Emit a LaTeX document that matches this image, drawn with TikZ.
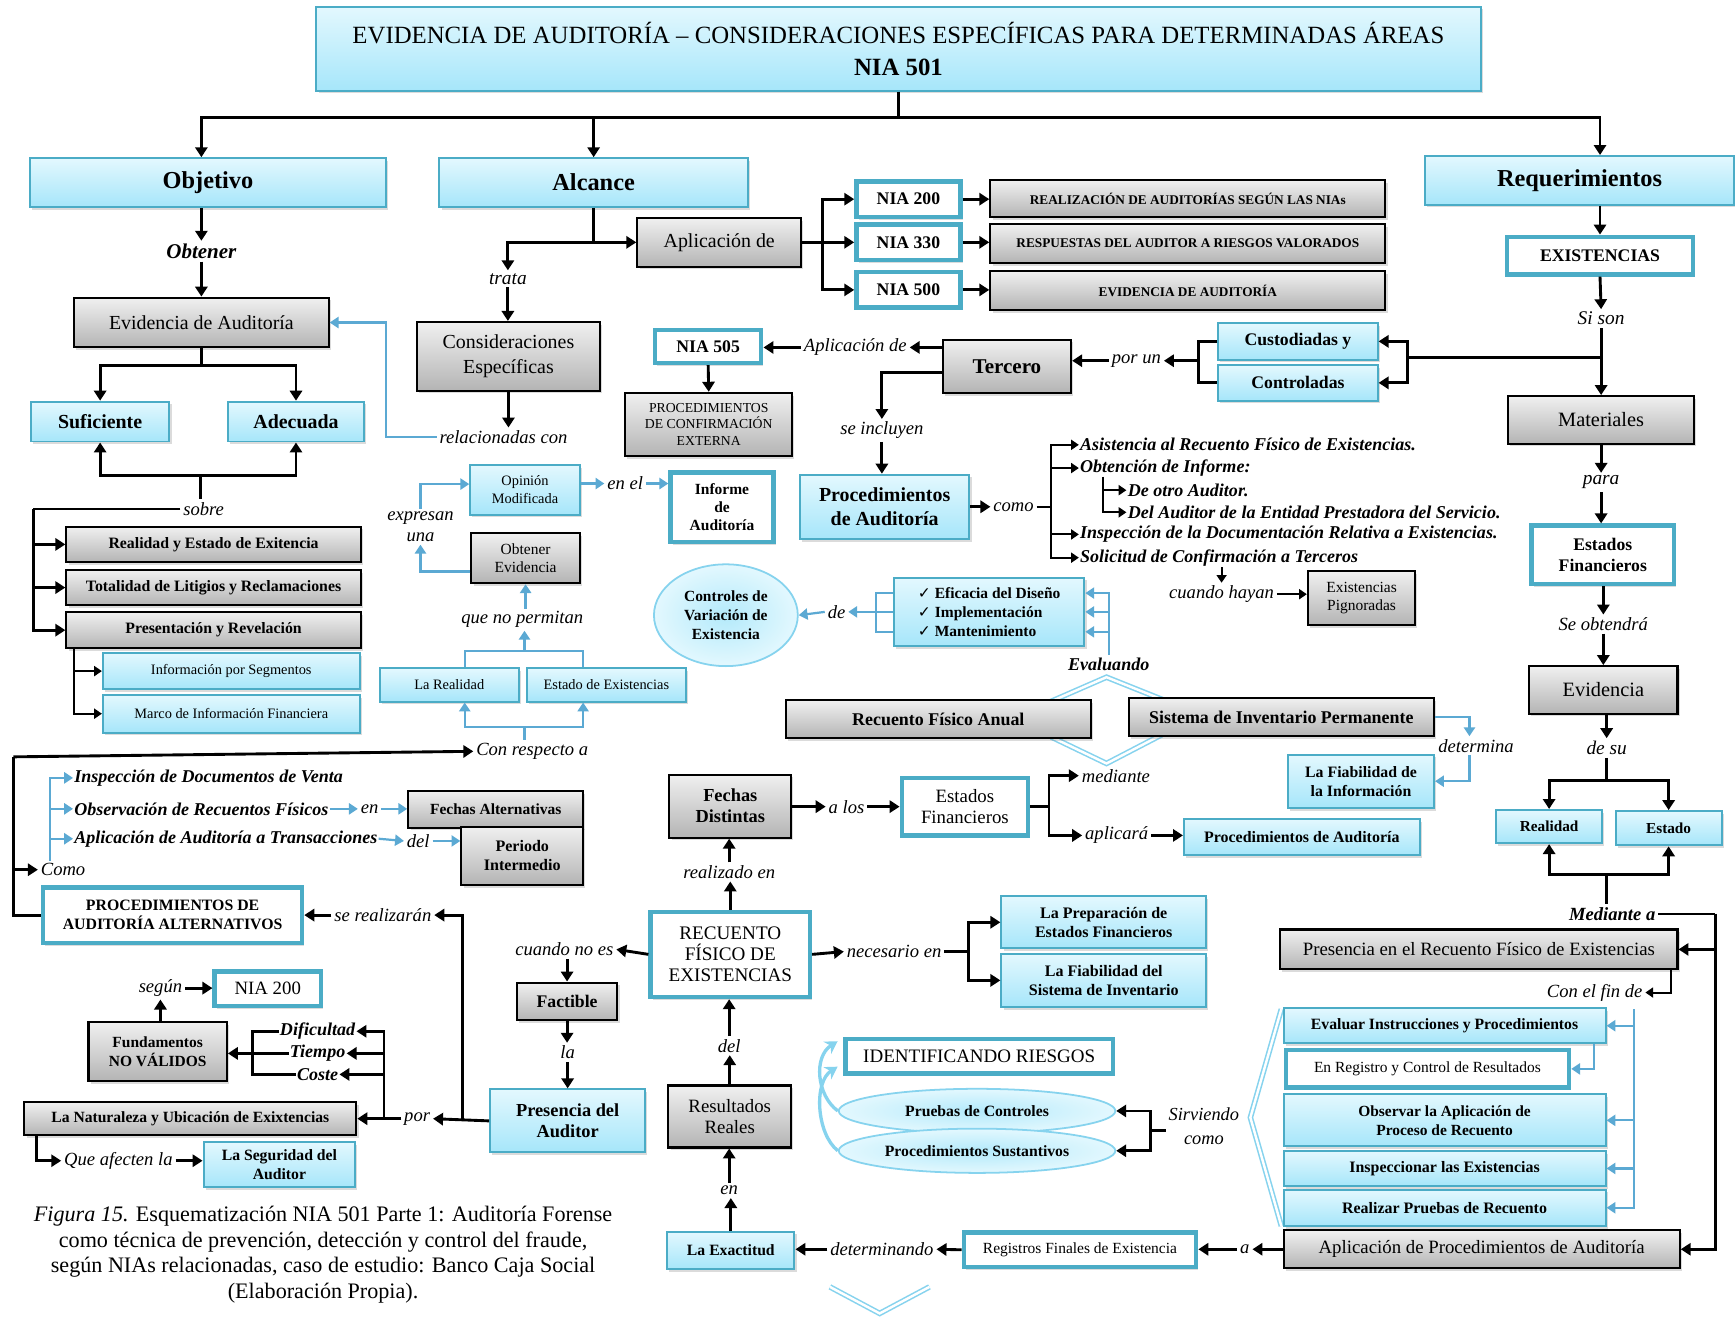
\documentclass[tikz,border=0pt]{standalone}
\usepackage{fontspec}
\setmainfont{Liberation Serif}
\newfontfamily\symfont{DejaVu Sans}
\usetikzlibrary{arrows.meta,shapes.geometric,shadows,calc}
\newcommand\fz[2]{\fontsize{#1}{#2}\selectfont}
\definecolor{cyt}{HTML}{E3F8FE}
\definecolor{cyb}{HTML}{A6E6FA}
\definecolor{bd}{HTML}{4BACC6}
\definecolor{bl}{HTML}{5BA9D3}
\definecolor{gyt}{HTML}{F0F0F0}
\definecolor{gyb}{HTML}{B4B4B4}
\definecolor{lc}{HTML}{86D3EE}
\tikzset{
  shd/.style={drop shadow={shadow xshift=2pt, shadow yshift=-2.5pt, opacity=0.28}},
  cbox/.style={draw=bd, line width=1.8pt, top color=cyt, bottom color=cyb, align=center, inner sep=1pt, shd},
  gbox/.style={draw=black, line width=1.9pt, top color=gyt, bottom color=gyb, align=center, inner sep=1pt, shd},
  wbox/.style={draw=bd, line width=4pt, fill=white, align=center, inner sep=1pt, shd},
  ell/.style={ellipse, draw=lc, line width=1.6pt, inner color=cyb!85, outer color=cyt, align=center, inner sep=0pt},
  sz/.style 2 args={minimum width=#1pt, minimum height=#2pt},
  lab/.style={font=\fz{16.8}{19}\itshape, inner sep=2.5pt},
  blab/.style={font=\fz{16.3}{19}\bfseries\itshape, inner sep=2.5pt},
  arr/.style={draw=black, line width=2.6pt, -{Triangle[length=9pt,width=11pt]}},
  sarr/.style={draw=black, line width=1.8pt, -{Triangle[length=7pt,width=9pt]}},
  lw/.style={draw=black, line width=2.6pt},
  slw/.style={draw=black, line width=1.8pt},
  barr/.style={draw=bl, line width=2pt, -{Triangle[length=8pt,width=10pt]}},
  bln/.style={draw=bl, line width=2pt},
  chev/.style={draw=lc, line width=1.4pt, double=white, double distance=2.2pt},
  curv/.style={draw=lc, line width=3pt, -{Stealth[length=11pt,width=13pt]}},
}
\begin{document}
\begin{tikzpicture}[x=1pt,y=-1pt]
\useasboundingbox[fill=white] (0,0) rectangle (1568,1190);

% decorative double-line chevrons
\draw[chev] (945,636) -- (1000,612) -- (1055,634);
\draw[chev] (950,666) -- (1000,690) -- (1050,664);
\draw[chev] (750,1163) -- (795,1187) -- (840,1163);
\draw[chev] (1158,912) -- (1130,1010) -- (1158,1108);

% ---------- title and main branches ----------
\node[cbox, sz={1052}{76}, font=\fz{22.4}{29}] (title) at (812,44)
  {EVIDENCIA DE AUDITORÍA – CONSIDERACIONES ESPECÍFICAS PARA DETERMINADAS ÁREAS\\\textbf{NIA 501}};
\node[cbox, sz={322}{44}, font=\fz{22}{24}\bfseries] (objetivo) at (188,165) {Objetivo};
\node[cbox, sz={279}{44}, font=\fz{22}{24}\bfseries] (alcance) at (536.5,165) {Alcance};
\node[cbox, sz={279}{44}, font=\fz{22}{24}\bfseries] (requer) at (1427.5,163) {Requerimientos};

% ---------- Objetivo column ----------
\node[blab, font=\fz{19}{21}\bfseries\itshape] (obtener) at (182,227) {Obtener};
\node[gbox, sz={230}{45}, font=\fz{18}{20}] (evid) at (182,291.5) {Evidencia de Auditoría};
\node[cbox, sz={125}{36}, font=\fz{18}{20}\bfseries] (sufic) at (90.5,381) {Suficiente};
\node[cbox, sz={123}{36}, font=\fz{18}{20}\bfseries] (adec) at (267.5,381) {Adecuada};
\node[lab] (sobre) at (184,460) {sobre};
\node[gbox, sz={266}{32}, font=\fz{14.3}{16}\bfseries] (realE) at (193,492) {Realidad y Estado de Exitencia};
\node[gbox, sz={266}{32}, font=\fz{14.3}{16}\bfseries] (totl) at (193,531) {Totalidad de Litigios y Reclamaciones};
\node[gbox, sz={266}{33}, font=\fz{14.3}{16}\bfseries] (pres) at (193,569.5) {Presentación y Revelación};
\node[cbox, sz={232}{33}, font=\fz{13}{15}] (iseg) at (209,606.5) {Información por Segmentos};
\node[cbox, sz={232}{34}, font=\fz{13}{15}] (marco) at (209,645) {Marco de Información Financiera};

% ---------- Alcance column ----------
\node[gbox, sz={148}{44}, font=\fz{18}{21}] (aplic) at (650,219) {Aplicación de};
\node[wbox, sz={94}{32}, font=\fz{16}{19}\bfseries] (n200) at (821,180) {NIA 200};
\node[wbox, sz={94}{32}, font=\fz{16}{19}\bfseries] (n330) at (821,219) {NIA 330};
\node[wbox, sz={94}{32}, font=\fz{16}{19}\bfseries] (n500) at (821,262) {NIA 500};
\node[gbox, sz={357}{33}, font=\fz{12}{13}\bfseries] (realiz) at (1073.5,179.5) {REALIZACIÓN DE AUDITORÍAS SEGÚN LAS NIAs};
\node[gbox, sz={357}{35}, font=\fz{12}{13}\bfseries] (respu) at (1073.5,220) {RESPUESTAS DEL AUDITOR A RIESGOS VALORADOS};
\node[gbox, sz={357}{35}, font=\fz{12}{13}\bfseries] (evaud) at (1073.5,262.5) {EVIDENCIA DE AUDITORÍA};
\node[lab, font=\fz{17.5}{19}\itshape] (trata) at (459,252) {trata};
\node[gbox, sz={165}{62}, font=\fz{18}{22}] (consid) at (459.5,322) {Consideraciones\\Específicas};
\node[lab] (relac) at (455,395) {relacionadas con};

\node[cbox, sz={99}{45}, font=\fz{13}{16}] (opin) at (474.5,442.5) {Opinión\\Modificada};
\node[lab] (enel) at (565,437) {en el};
\node[wbox, sz={93}{63}, font=\fz{14}{16}\bfseries] (inform) at (652.5,458.5) {Informe\\de\\Auditoría};
\node[gbox, sz={98}{45}, font=\fz{14}{17}] (obtev) at (475,504.5) {Obtener\\Evidencia};
\node[lab, align=center, font=\fz{16.8}{19}\itshape] (expr) at (380,476) {expresan\\una};
\node[lab] (qnp) at (472,560) {que no permitan};
\node[cbox, sz={126}{30}, font=\fz{13}{15}] (lreal) at (406,619) {La Realidad};
\node[cbox, sz={144}{30}, font=\fz{13}{15}] (estex) at (548,619) {Estado de Existencias};
\node[lab] (conresp) at (481,679) {Con respecto a};

% ---------- Tercero and procedures ----------
\node[wbox, sz={96}{30}, font=\fz{16}{19}\bfseries] (n505) at (640,313) {NIA 505};
\node[gbox, sz={151}{57}, font=\fz{12.4}{15}] (confx) at (640.5,383.5) {PROCEDIMIENTOS\\DE CONFIRMACIÓN\\EXTERNA};
\node[lab] (aplde) at (773,314) {Aplicación de};
\node[gbox, sz={116}{48}, font=\fz{19}{21}\bfseries] (terc) at (910,331) {Tercero};
\node[lab] (porun) at (1027,326) {por un};
\node[cbox, sz={144}{33}, font=\fz{16}{18}\bfseries] (cust) at (1173,308.5) {Custodiadas y};
\node[cbox, sz={144}{32}, font=\fz{16}{18}\bfseries] (ctrl) at (1173,346) {Controladas};
\node[lab] (seinc) at (797,389) {se incluyen};
\node[cbox, sz={153}{58}, font=\fz{18}{21}\bfseries] (proca) at (799.5,458) {Procedimientos\\de Auditoría};
\node[lab] (como) at (916,458) {como};
\node[blab, anchor=west, inner sep=1pt] (li1) at (975,402) {Asistencia al Recuento Físico de Existencias.};
\node[blab, anchor=west, inner sep=1pt] (li2) at (975,423) {Obtención de Informe:};
\node[blab, anchor=west, inner sep=1pt] (li3) at (1018,443) {De otro Auditor.};
\node[blab, anchor=west, inner sep=1pt] (li4) at (1018,463) {Del Auditor de la Entidad Prestadora del Servicio.};
\node[blab, anchor=west, inner sep=1pt] (li5) at (975,483) {Inspección de la Documentación Relativa a Existencias.};
\node[blab, anchor=west, inner sep=1pt] (li6) at (975,504) {Solicitud de Confirmación a Terceros};
\node[lab] (cuando) at (1104,537) {cuando hayan};
\node[gbox, sz={97}{49}, font=\fz{14}{17}] (pign) at (1230.5,540.5) {Existencias\\Pignoradas};

\node[ell, sz={130}{92}, font=\fz{14}{17.5}\bfseries] (ctrlv) at (656,556) {Controles de\\Variación de\\Existencia};
\node[lab] (de1) at (756,553) {de};
\node[cbox, sz={172}{62}, font=\fz{14}{17}\bfseries, align=left] (efic) at (894,553)
  {{\symfont ✓} Eficacia del Diseño\\{\symfont ✓} Implementación\\{\symfont ✓} Mantenimiento};
\node[blab] (evalu) at (1002,600) {Evaluando};
\node[gbox, sz={276}{34}, font=\fz{16.2}{18}\bfseries] (rfa) at (848,650) {Recuento Físico Anual};
\node[gbox, sz={276}{34}, font=\fz{16.2}{18}\bfseries] (sip) at (1158,648) {Sistema de Inventario Permanente};
\node[lab] (determina) at (1334,674) {determina};
\node[cbox, sz={132}{48}, font=\fz{14.3}{17}\bfseries] (fiabi) at (1230,706) {La Fiabilidad de\\la Información};

% ---------- Requerimientos column ----------
\node[wbox, sz={168}{34}, font=\fz{16}{18}\bfseries] (exist) at (1446,231) {EXISTENCIAS};
\node[lab, font=\fz{17.5}{19}\itshape] (sison) at (1447,288) {Si son};
\node[gbox, sz={168}{43}, font=\fz{18.4}{20}] (mater) at (1447,379.5) {Materiales};
\node[lab, font=\fz{17.5}{19}\itshape] (para) at (1447,436) {para};
\node[wbox, sz={129}{53}, font=\fz{16}{19}\bfseries] (efR) at (1448.5,501.5) {Estados\\Financieros};
\node[lab] (seobt) at (1449,564) {Se obtendrá};
\node[gbox, sz={134}{43}, font=\fz{18.4}{20}] (evR) at (1449,623.5) {Evidencia};
\node[lab, font=\fz{17.5}{19}\itshape] (desu) at (1452,676) {de su};
\node[cbox, sz={96}{30}, font=\fz{13.8}{15}\bfseries] (realR) at (1400,747) {Realidad};
\node[cbox, sz={96}{31}, font=\fz{13.8}{15}\bfseries] (estR) at (1508,748.5) {Estado};
\node[blab, font=\fz{16.8}{19}\bfseries\itshape] (medA) at (1457,826) {Mediante a};
\node[gbox, sz={359}{36}, font=\fz{17}{19}] (presc) at (1336.5,858) {Presencia en el Recuento Físico de Existencias};
\node[lab, anchor=east] (confin) at (1487,897) {Con el fin de};
\node[cbox, sz={291}{32}, font=\fz{14.2}{15}\bfseries] (evalr) at (1305.5,927) {Evaluar Instrucciones y Procedimientos};
\node[wbox, sz={256}{34}, font=\fz{14}{15}] (enreg) at (1290,966) {En Registro y Control de Resultados};
\node[cbox, sz={291}{47}, font=\fz{14}{17}\bfseries] (obsv) at (1305.5,1012.5) {Observar la Aplicación de\\Proceso de Recuento};
\node[cbox, sz={291}{32}, font=\fz{14.4}{15}\bfseries] (insp) at (1305.5,1056) {Inspeccionar las Existencias};
\node[cbox, sz={291}{33}, font=\fz{14.4}{15}\bfseries] (rprb) at (1305.5,1091.5) {Realizar Pruebas de Recuento};
\node[gbox, sz={358}{34}, font=\fz{17}{19}] (aplp) at (1339,1129) {Aplicación de Procedimientos de Auditoría};

% ---------- central lower part ----------
\node[lab] (a1) at (1125,1129) {a};
\node[wbox, sz={210}{31}, font=\fz{14}{15}] (regs) at (976,1129.5) {Registros Finales de Existencia};
\node[lab] (determ) at (797,1129) {determinando};
\node[cbox, sz={115}{34}, font=\fz{14.2}{15}\bfseries] (exact) at (660.5,1130) {La Exactitud};
\node[lab] (en3) at (659,1076) {en};
\node[gbox, sz={111}{56}, font=\fz{17}{19}] (resul) at (659.5,1009) {Resultados\\Reales};
\node[lab] (del3) at (659,945) {del};
\node[wbox, sz={144}{77}, font=\fz{17.3}{19}] (recu) at (660,862.5) {RECUENTO\\FÍSICO DE\\EXISTENCIAS};
\node[lab] (realen) at (659,788) {realizado en};
\node[gbox, sz={110}{57}, font=\fz{16.6}{19}\bfseries] (fechD) at (660,728.5) {Fechas\\Distintas};
\node[lab] (alos) at (765,729) {a los};
\node[wbox, sz={114}{52}, font=\fz{17}{19}] (efM) at (872,729) {Estados\\Financieros};
\node[lab, anchor=west] (medte) at (975,701) {mediante};
\node[lab, anchor=west] (aplica) at (978,755) {aplicará};
\node[cbox, sz={213}{33}, font=\fz{14.4}{15}\bfseries] (pa2) at (1176.5,756.5) {Procedimientos de Auditoría};
\node[lab] (necen) at (808,860) {necesario en};
\node[cbox, sz={185}{47}, font=\fz{14.5}{17}\bfseries] (prep) at (997.5,833.5) {La Preparación de\\Estados Financieros};
\node[cbox, sz={185}{48}, font=\fz{14.5}{17}\bfseries] (fsis) at (997.5,886) {La Fiabilidad del\\Sistema de Inventario};
\node[lab] (cnoes) at (510,858) {cuando no es};
\node[gbox, sz={91}{34}, font=\fz{16}{18}\bfseries] (fact) at (512.5,905) {Factible};
\node[lab] (la) at (513,951) {la};
\node[cbox, sz={140}{57}, font=\fz{16.6}{19}\bfseries] (presA) at (513,1013) {Presencia del\\Auditor};
\node[wbox, sz={242}{31}, font=\fz{17.2}{18}] (ident) at (885,954.5) {IDENTIFICANDO RIESGOS};
\node[ell, sz={250}{40}, font=\fz{14.2}{15}\bfseries] (prueb) at (883,1004) {Pruebas de Controles};
\node[ell, sz={250}{40}, font=\fz{14.2}{15}\bfseries] (sust) at (883,1040) {Procedimientos Sustantivos};
\node[lab, align=center, font=\fz{16.6}{22}\itshape] (sirv) at (1088,1018) {Sirviendo\\como};

% ---------- left lower part ----------
\node[blab, anchor=west, inner sep=1pt] (ins) at (66,703) {Inspección de Documentos de Venta};
\node[blab, anchor=west, inner sep=1pt] (obs) at (66,731) {Observación de Recuentos Físicos};
\node[blab, anchor=west, inner sep=1pt] (apl) at (66,758) {Aplicación de Auditoría a Transacciones};
\node[lab] (en2) at (334,731) {en};
\node[gbox, sz={158}{33}, font=\fz{14}{15}\bfseries] (fechA) at (448,731.5) {Fechas Alternativas};
\node[lab] (del2) at (378,760) {del};
\node[gbox, sz={110}{53}, font=\fz{14.5}{17}\bfseries] (perio) at (472,773.5) {Periodo\\Intermedio};
\node[lab] (como2) at (57,786) {Como};
\node[wbox, sz={234}{50}, font=\fz{14.3}{17}\bfseries] (palt) at (156,827) {PROCEDIMIENTOS DE\\AUDITORÍA ALTERNATIVOS};
\node[lab] (serea) at (346,827) {se realizarán};
\node[lab] (segun) at (145,893) {según};
\node[wbox, sz={96}{31}, font=\fz{17}{19}] (n200b) at (242,893.5) {NIA 200};
\node[gbox, sz={125}{53}, font=\fz{14}{17}\bfseries] (fund) at (142.5,950.5) {Fundamentos\\NO VÁLIDOS};
\node[blab, inner sep=1pt] (dific) at (287,932) {Dificultad};
\node[blab, inner sep=1pt] (tiem) at (287,952) {Tiempo};
\node[blab, inner sep=1pt] (cost) at (287,971) {Coste};
\node[gbox, sz={300}{30}, font=\fz{14.1}{15}\bfseries] (natu) at (172,1011) {La Naturaleza y Ubicación de Exixtencias};
\node[lab] (por) at (377,1011) {por};
\node[lab] (qafe) at (107,1049) {Que afecten la};
\node[cbox, sz={137}{41}, font=\fz{14.2}{17}\bfseries] (segu) at (252.5,1052.5) {La Seguridad del\\Auditor};
\node[align=center, font=\fz{20}{23}] (capt) at (292,1134)
  {\textit{Figura 15.} Esquematización NIA 501 Parte 1: Auditoría Forense\\como técnica de prevención, detección y control del fraude,\\según NIAs relacionadas, caso de estudio: Banco Caja Social\\(Elaboración Propia).};

% ================= connectors =================
% title branches
\coordinate (tb) at (812,106);
\draw[lw] (title.south) -- (tb);
\draw[arr] (tb) -| (obtener.north |- objetivo.north);
\draw[arr] (tb) -| (alcance.north);
\draw[arr] (tb) -| (exist.north |- requer.north);

% Objetivo
\draw[arr] (obtener.north |- objetivo.south) -- (obtener.north);
\draw[arr] (obtener.south) -- (obtener.south |- evid.north);
\coordinate (ej) at (182,330);
\draw[lw] (evid.south) -- (ej);
\draw[arr] (ej) -| (sufic.north);
\draw[arr] (ej) -| (adec.north);
\coordinate (sj) at (181,430);
\draw[arr] (sj) -| (sufic.south);
\draw[arr] (sj) -| (adec.south);
\draw[lw] (sj) -- (sj |- sobre.north);
\coordinate (sl) at (30,460);
\draw[lw] (sobre.west) -- (sl);
\draw[arr] (sl) |- (realE.west);
\draw[arr] (sl) |- (totl.west);
\draw[arr] (sl) |- (pres.west);
\coordinate (pl) at ([xshift=8pt]pres.south west);
\draw[sarr] (pl) |- (iseg.west);
\draw[sarr] (pl) |- (marco.west);
\coordinate (rc) at (349,395);
\draw[barr] (relac.west) -- (rc) |- (evid.east);

% Alcance
\coordinate (aj) at (536.5,219);
\draw[lw] (alcance.south) -- (aj);
\draw[arr] (aj) -| (trata.north);
\draw[arr] (trata.south) -- (trata.south |- consid.north);
\draw[arr] (aj) -- (aplic.west);
\coordinate (nj) at (743,219);
\draw[lw] (aplic.east) -- (nj);
\draw[arr] (nj) |- (n200.west);
\draw[arr] (nj) -- (n330.west);
\draw[arr] (nj) |- (n500.west);
\draw[arr] (n200.east) -- (n200.east -| realiz.west);
\draw[arr] (n330.east) -- (n330.east -| respu.west);
\draw[arr] (n500.east) -- (n500.east -| evaud.west);
\draw[arr] (consid.south) -- (consid.south |- relac.north);

% Opinion / evidence
\draw[barr] (enel.west -| opin.east) -- (enel.west);
\draw[barr] (enel.east) -- (enel.east -| inform.west);
\draw[barr] (expr.north) |- ([yshift=5pt]opin.west);
\draw[barr] ([yshift=-12pt]obtev.west) -| (expr.south);
\draw[barr] (obtev.south |- qnp.north) -- (obtev.south);
\coordinate (rj) at (474,588);
\draw[bln] ([xshift=14pt]lreal.north) |- (rj) -| ([xshift=-21pt]estex.north);
\draw[barr] (rj) -- (rj |- qnp.south);
\coordinate (rj2) at (474,657);
\draw[barr] (rj2) -| ([xshift=14pt]lreal.south);
\draw[barr] (rj2) -| ([xshift=-21pt]estex.south);
\draw[bln] (rj2) -- (rj2 |- conresp.north);

% Tercero
\draw[arr] (aplde.east -| terc.west) -- (aplde.east);
\draw[arr] (aplde.west) -- (aplde.west -| n505.east);
\draw[arr] (n505.south) -- (confx.north);
\coordinate (cj) at (1272,323);
\draw[lw] (sison.south |- cj) -- (cj);
\draw[arr] (cj) |- (cust.east);
\draw[arr] (cj) |- (ctrl.east);
\coordinate (cl) at (1083,326);
\draw[lw] (cust.west) -| (cl) |- (ctrl.west);
\draw[arr] (cl) -- (porun.east);
\draw[arr] (porun.west) -- (porun.west -| terc.east);
\draw[arr] ([yshift=-6pt]terc.west) -| (seinc.north);
\draw[arr] (seinc.south) -- (seinc.south |- proca.north);
\draw[arr] (proca.east) -- (como.west);
\coordinate (cv) at (950,458);
\draw[slw] (como.east) -- (cv);
\draw[sarr] (cv) |- (li1.west);
\draw[sarr] (cv) |- (li2.west);
\draw[sarr] (cv) |- (li5.west);
\draw[sarr] (cv) |- (li6.west);
\coordinate (sv) at (997,431);
\draw[sarr] (sv) |- (li3.west);
\draw[sarr] (sv) |- (li4.west);
\draw[sarr] (li6.south -| cuando.north) -- (cuando.north);
\draw[sarr] (cuando.east) -- (cuando.east -| pign.west);

% controls
\draw[barr] (evalu.north) |- ([yshift=17pt]efic.east);
\draw[barr] (evalu.north) |- (efic.east);
\draw[barr] (evalu.north) |- ([yshift=-18pt]efic.east);
\coordinate (eb) at (792,553);
\draw[bln] ([yshift=17pt]efic.west) -| (eb);
\draw[bln] ([yshift=-18pt]efic.west) -| (eb);
\draw[bln] (efic.west) -- (eb);
\draw[barr] (eb) -- (de1.east);
\draw[barr] (de1.west) -- (ctrlv.east);
\draw[barr] (sip.east) -| ([xshift=-6pt]determina.north);
\draw[barr] ([xshift=-6pt]determina.south) |- (fiabi.east);

% Requerimientos column
\draw[arr] (exist.north |- requer.south) -- (exist.north);
\draw[arr] (exist.south) -- (sison.north);
\draw[arr] (sison.south) -- (mater.north);
\draw[arr] (mater.south) -- (para.north);
\draw[arr] (para.south) -- (para.south |- efR.north);
\draw[arr] (seobt.north |- efR.south) -- (seobt.north);
\draw[arr] (seobt.south) -- (seobt.south |- evR.north);
\draw[arr] (desu.north |- evR.south) -- (desu.north);
\coordinate (dj) at (1452,705);
\draw[lw] (desu.south) -- (dj);
\draw[arr] (dj) -| (realR.north);
\draw[arr] (dj) -| (estR.north);
\coordinate (mj) at (1452,790);
\draw[arr] (mj) -| (realR.south);
\draw[arr] (mj) -| (estR.south);
\draw[lw] (mj) -- (mj |- medA.north);
\coordinate (mr) at (1550,826);
\draw[lw] (medA.east) -- (mr);
\draw[arr] (mr) |- (presc.east);
\draw[arr] (mr) |- (aplp.east);
\draw[sarr] ([xshift=-7pt]presc.south east) |- (confin.east);
\coordinate (bt) at (1477,912);
\draw[barr] (bt) |- (evalr.east);
\draw[barr] (bt) |- (obsv.east);
\draw[barr] (bt) |- (insp.east);
\draw[barr] (bt) |- (rprb.east);
\draw[barr] ([xshift=-11pt]evalr.south east) |- (enreg.east);

% lower centre
\draw[arr] (aplp.west) -- (a1.east);
\draw[arr] (a1.west) -- (a1.west -| regs.east);
\draw[arr] (regs.west) -- (determ.east);
\draw[arr] (determ.west) -- (determ.west -| exact.east);
\draw[arr] (exact.north) -- (exact.north |- en3.south);
\draw[arr] (en3.north) -- (en3.north |- resul.south);
\draw[arr] (resul.north) -- (resul.north |- del3.south);
\draw[arr] (del3.north) -- (del3.north |- recu.south);
\draw[arr] (recu.north) -- (recu.north |- realen.south);
\draw[arr] (realen.north) -- (realen.north |- fechD.south);
\draw[arr] (fechD.east |- alos.west) -- (alos.west);
\draw[arr] (alos.east) -- (alos.east -| efM.west);
\coordinate (mv) at (948,729);
\draw[lw] (efM.east) -- (mv);
\draw[arr] (mv) |- (medte.west);
\draw[arr] (mv) |- (aplica.west);
\draw[arr] (aplica.east) -- (aplica.east -| pa2.west);
\draw[arr] (recu.east) -- (necen.west);
\coordinate (nv) at (875,860);
\draw[lw] (necen.east) -- (nv);
\draw[arr] (nv) |- (prep.west);
\draw[arr] (nv) |- (fsis.west);
\draw[arr] (recu.west) -- (cnoes.east);
\draw[arr] (fact.north |- cnoes.south) -- (fact.north);
\draw[arr] (fact.south) -- (fact.south |- la.north);
\draw[arr] (la.south) -- (la.south |- presA.north);
\coordinate (sv2) at (1040,1022);
\draw[lw] (sirv.west |- sv2) -- (sv2);
\draw[arr] (sv2) |- (prueb.east);
\draw[arr] (sv2) |- (sust.east);
\draw[curv] (prueb.west) .. controls (738,990) and (735,955) .. (757,941);
\draw[curv] (sust.west) .. controls (738,1025) and (735,978) .. (757,964);

% left lower
\coordinate (ll) at (12,684);
\draw[lw] (palt.west) -| (ll);
\draw[arr] (ll) -- (conresp.west);
\draw[arr] (ll |- como2.west) -- (como2.west);
\coordinate (bv) at (45,778);
\draw[barr] (bv) |- (ins.west);
\draw[barr] (bv) |- (obs.west);
\draw[barr] (bv) |- (apl.west);
\draw[barr] (obs.east) -- (en2.west);
\draw[barr] (en2.east) -- (en2.east -| fechA.west);
\draw[barr] (apl.east) -- (del2.west);
\draw[barr] (del2.east) -- (del2.east -| perio.west);
\draw[arr] (serea.west) -- (serea.west -| palt.east);
\coordinate (pv) at (418,1013);
\draw[arr] (pv) |- (serea.east);
\draw[arr] (presA.west) -- (por.east);
\draw[arr] (por.west) -- (por.west -| natu.east);
\coordinate (qv) at (347,1011);
\draw[arr] (qv) |- (dific.east);
\draw[arr] (qv) |- (tiem.east);
\draw[arr] (qv) |- (cost.east);
\coordinate (fb) at (228,952);
\draw[lw] (dific.west) -| (fb);
\draw[lw] (cost.west) -| (fb);
\draw[lw] (tiem.west) -- (fb);
\draw[arr] (fb) -- (fund.east |- fb);
\draw[arr] (fund.north -| segun.south) -- (segun.south);
\draw[arr] (segun.east) -- (segun.east -| n200b.west);
\draw[arr] ([xshift=12pt]natu.south west) |- (qafe.west);
\draw[arr] (qafe.east) -- (qafe.east -| segu.west);
\end{tikzpicture}
\end{document}
